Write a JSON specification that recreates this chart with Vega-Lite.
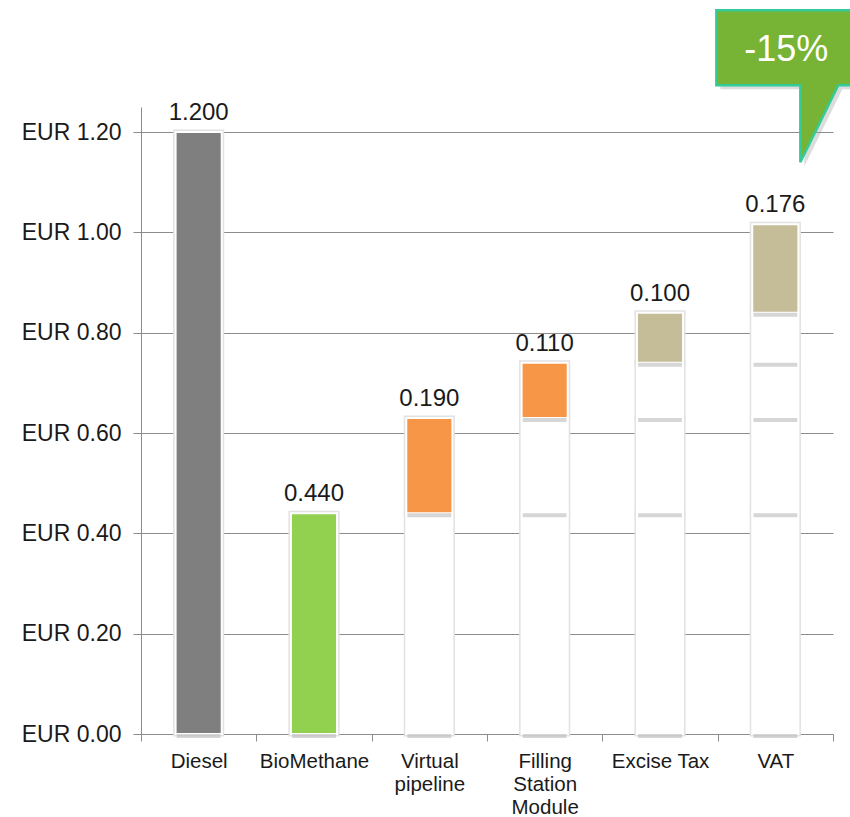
{
  "$schema": "https://vega.github.io/schema/vega-lite/v6.json",
  "width": 692,
  "height": 627,
  "autosize": {"type": "none"},
  "padding": {"left": 141, "top": 107, "right": 17, "bottom": 83},
  "background": "white",
  "config": {"view": {"stroke": null}, "font": "Liberation Sans"},
  "datasets": {
    "segments": [
      {"cat": "Diesel", "start": 0, "end": 1.2, "kind": "Diesel"},
      {"cat": "BioMethane", "start": 0, "end": 0.44, "kind": "BioMethane"},
      {"cat": "Virtual pipeline", "start": 0, "end": 0.44, "kind": "Base"},
      {"cat": "Virtual pipeline", "start": 0.44, "end": 0.63, "kind": "Logistics"},
      {"cat": "Filling Station Module", "start": 0, "end": 0.44, "kind": "Base"},
      {"cat": "Filling Station Module", "start": 0.44, "end": 0.63, "kind": "Base"},
      {"cat": "Filling Station Module", "start": 0.63, "end": 0.74, "kind": "Logistics"},
      {"cat": "Excise Tax", "start": 0, "end": 0.44, "kind": "Base"},
      {"cat": "Excise Tax", "start": 0.44, "end": 0.63, "kind": "Base"},
      {"cat": "Excise Tax", "start": 0.63, "end": 0.74, "kind": "Base"},
      {"cat": "Excise Tax", "start": 0.74, "end": 0.84, "kind": "Tax"},
      {"cat": "VAT", "start": 0, "end": 0.44, "kind": "Base"},
      {"cat": "VAT", "start": 0.44, "end": 0.63, "kind": "Base"},
      {"cat": "VAT", "start": 0.63, "end": 0.74, "kind": "Base"},
      {"cat": "VAT", "start": 0.74, "end": 0.84, "kind": "Base"},
      {"cat": "VAT", "start": 0.84, "end": 1.016, "kind": "Tax"}
    ],
    "labels": [
      {"cat": "Diesel", "top": 1.2, "value": 1.2},
      {"cat": "BioMethane", "top": 0.44, "value": 0.44},
      {"cat": "Virtual pipeline", "top": 0.63, "value": 0.19},
      {"cat": "Filling Station Module", "top": 0.74, "value": 0.11},
      {"cat": "Excise Tax", "top": 0.84, "value": 0.1},
      {"cat": "VAT", "top": 1.016, "value": 0.176}
    ],
    "callout": [{"cat": "VAT", "y": 1.363, "text": "-15%"}]
  },
  "layer": [
    {
      "data": {"name": "segments"},
      "mark": {"type": "bar", "width": {"band": 0.4}, "fillOpacity": 0, "stroke": "#e2e2e2", "strokeWidth": 5},
      "encoding": {
        "x": {
          "field": "cat", "type": "nominal",
          "sort": ["Diesel", "BioMethane", "Virtual pipeline", "Filling Station Module", "Excise Tax", "VAT"],
          "scale": {"domain": ["Diesel", "BioMethane", "Virtual pipeline", "Filling Station Module", "Excise Tax", "VAT"], "paddingInner": 0, "paddingOuter": 0},
          "axis": {
            "title": null, "labelAngle": 0, "labelFontSize": 20.5, "labelColor": "#1a1a1a",
            "labelLineHeight": 23, "labelPadding": 10, "tickBand": "extent", "tickSize": 7,
            "tickColor": "#8c8c8c", "domainColor": "#8c8c8c", "grid": false,
            "labelExpr": "datum.label == 'Virtual pipeline' ? ['Virtual', 'pipeline'] : datum.label == 'Filling Station Module' ? ['Filling', 'Station', 'Module'] : datum.label"
          }
        },
        "y": {
          "field": "end", "type": "quantitative",
          "scale": {"domain": [0, 1.25], "nice": false, "zero": true},
          "axis": {
            "title": null, "values": [0, 0.2, 0.4, 0.6, 0.8, 1.0, 1.2],
            "labelExpr": "'EUR ' + format(datum.value, '.2f')",
            "labelFontSize": 23, "labelColor": "#1a1a1a", "labelPadding": 12,
            "tickSize": 8, "tickColor": "#8c8c8c", "domainColor": "#8c8c8c",
            "grid": true, "gridColor": "#8c8c8c", "gridWidth": 1
          }
        },
        "y2": {"field": "start"}
      }
    },
    {
      "data": {"name": "segments"},
      "mark": {"type": "bar", "width": {"band": 0.4}, "stroke": "white", "strokeWidth": 2},
      "encoding": {
        "x": {"field": "cat", "type": "nominal"},
        "y": {"field": "end", "type": "quantitative"},
        "y2": {"field": "start"},
        "fill": {
          "field": "kind", "type": "nominal", "legend": null,
          "scale": {"domain": ["Diesel", "BioMethane", "Logistics", "Tax", "Base"], "range": ["#7f7f7f", "#92d050", "#f79646", "#c4bd97", "#ffffff"]}
        }
      }
    },
    {
      "data": {"name": "segments"},
      "mark": {"type": "bar", "width": {"band": 0.38}, "fill": "#b4b4b4", "opacity": 0.55, "y2Offset": 4},
      "encoding": {
        "x": {"field": "cat", "type": "nominal"},
        "y": {"field": "start", "type": "quantitative"},
        "y2": {"field": "start"}
      }
    },
    {
      "data": {"name": "labels"},
      "mark": {"type": "text", "fontSize": 24, "color": "#1a1a1a", "baseline": "alphabetic", "dy": -12},
      "encoding": {
        "x": {"field": "cat", "type": "nominal"},
        "y": {"field": "top", "type": "quantitative"},
        "text": {"field": "value", "type": "quantitative", "format": ".3f"}
      }
    },
    {
      "data": {"name": "callout"},
      "mark": {"type": "point", "shape": "M-5.5,-3.6 L8.9,-3.6 L8.9,3.9 L6.7,3.9 L2.9,11.6 L2.9,3.9 L-5.5,3.9 Z", "size": 400, "filled": true, "fill": "#9a9a9a", "opacity": 0.35, "strokeWidth": 0},
      "encoding": {
        "x": {"field": "cat", "type": "nominal"},
        "y": {"field": "y", "type": "quantitative"}
      }
    },
    {
      "data": {"name": "callout"},
      "mark": {"type": "point", "shape": "M-5.9,-4 L8.5,-4 L8.5,3.5 L6.3,3.5 L2.5,11.2 L2.5,3.5 L-5.9,3.5 Z", "size": 400, "filled": true, "fill": "#77b334", "stroke": "#33cc99", "strokeWidth": 2.5, "opacity": 1},
      "encoding": {
        "x": {"field": "cat", "type": "nominal"},
        "y": {"field": "y", "type": "quantitative"}
      }
    },
    {
      "data": {"name": "callout"},
      "mark": {"type": "text", "fontSize": 36, "color": "white", "baseline": "middle", "align": "center", "dx": 11},
      "encoding": {
        "x": {"field": "cat", "type": "nominal"},
        "y": {"field": "y", "type": "quantitative"},
        "text": {"field": "text"}
      }
    }
  ]
}
